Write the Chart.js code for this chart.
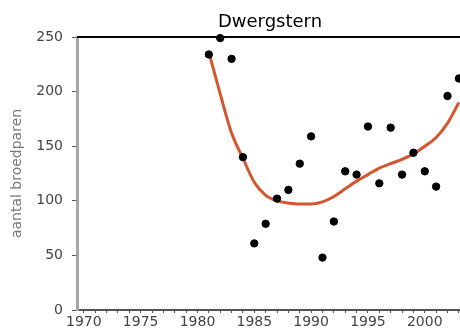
<!DOCTYPE html>
<html>
<head>
<meta charset="utf-8">
<script src="https://cdn.jsdelivr.net/npm/chart.js@4.4.0/dist/chart.umd.min.js"></script>
<style>
  html, body { margin: 0; padding: 0; background: #fff; }
  #wrap { width: 460px; height: 329px; }
</style>
</head>
<body>
<div id="wrap"><canvas id="myChart" width="460" height="329"></canvas></div>
<script>
// Dwergstern - aantal broedparen per jaar
const years = [1981, 1982, 1983, 1984, 1985, 1986, 1987, 1988, 1989, 1990, 1991, 1992,
  1993, 1994, 1995, 1996, 1997, 1998, 1999, 2000, 2001, 2002, 2003];
const pairs = [234, 249, 230, 140, 61, 79, 102, 110, 134, 159, 48, 81,
  127, 124, 168, 116, 167, 124, 144, 127, 113, 196, 212];
const trend = [236, 198, 162, 139, 117, 105, 100, 98, 97, 97, 99, 104,
  111, 118, 124, 130, 134, 138, 143, 150, 158, 171, 190];
const yTicks = [0, 50, 100, 150, 200, 250];
const xLabelYears = [1970, 1975, 1980, 1985, 1990, 1995, 2000];

const titleText = 'Dwergstern';
const yTitle = 'aantal broedparen';

const toPoints = (vals) => years.map((yr, i) => ({ x: yr, y: vals[i] }));

// title + top frame line
const frame = {
  id: 'frame',
  afterDraw(chart) {
    const { ctx, chartArea } = chart;
    ctx.save();
    ctx.strokeStyle = '#000';
    ctx.lineWidth = 2;
    ctx.beginPath();
    ctx.moveTo(chartArea.left, chartArea.top);
    ctx.lineTo(chart.width, chartArea.top);
    ctx.stroke();
    ctx.fillStyle = '#000';
    ctx.font = '18px "DejaVu Sans"';
    ctx.textAlign = 'center';
    ctx.textBaseline = 'alphabetic';
    ctx.fillText(titleText, 270, 27);
    ctx.restore();
  }
};

const ctx = document.getElementById('myChart').getContext('2d');
const chart = new Chart(ctx, {
  type: 'scatter',
  data: {
    datasets: [{
      label: 'trend',
      type: 'line',
      data: toPoints(trend),
      borderColor: '#d4562c',
      borderWidth: 3,
      pointRadius: 0,
      fill: false,
      cubicInterpolationMode: 'monotone',
      clip: false,
      order: 2
    }, {
      label: 'broedparen',
      data: toPoints(pairs),
      backgroundColor: '#000',
      borderColor: '#000',
      pointRadius: 3.7,
      pointHoverRadius: 3.7,
      clip: false,
      order: 1
    }]
  },
  options: {
    responsive: false,
    animation: false,
    events: [],
    layout: { autoPadding: false, padding: { top: 37, left: 9, right: 0, bottom: 0 } },
    plugins: {
      legend: { display: false },
      tooltip: { enabled: false },
      title: { display: false }
    },
    scales: {
      x: {
        type: 'linear',
        min: 1969.4,
        max: 2003.1,
        afterFit: (scale) => { scale.height = 19; },
        afterBuildTicks: (scale) => {
          const t = [];
          for (let yr = 1970; yr <= 2003; yr++) t.push({ value: yr });
          scale.ticks = t;
        },
        ticks: {
          autoSkip: false,
          maxRotation: 0,
          padding: 1,
          color: '#444',
          font: { family: 'DejaVu Sans', size: 14 },
          callback: (v) => (xLabelYears.includes(v) ? String(v) : '')
        },
        grid: {
          drawOnChartArea: false,
          drawTicks: true,
          tickLength: 3,
          color: '#555'
        },
        border: { display: true, color: '#555', width: 2 }
      },
      y: {
        min: 0,
        max: 250,
        afterFit: (scale) => { scale.width = 68; },
        afterBuildTicks: (scale) => {
          scale.ticks = yTicks.map((v) => ({ value: v }));
        },
        ticks: {
          padding: 9,
          color: '#444',
          font: { family: 'DejaVu Sans', size: 14 }
        },
        grid: {
          drawOnChartArea: false,
          drawTicks: true,
          tickLength: 5,
          color: '#555'
        },
        border: { display: true, color: '#a6a6a6', width: 3 },
        title: {
          display: true,
          text: yTitle,
          color: '#777',
          padding: { top: 0, bottom: 0 },
          font: { family: 'DejaVu Sans', size: 14 }
        }
      }
    }
  },
  plugins: [frame]
});
</script>
</body>
</html>
